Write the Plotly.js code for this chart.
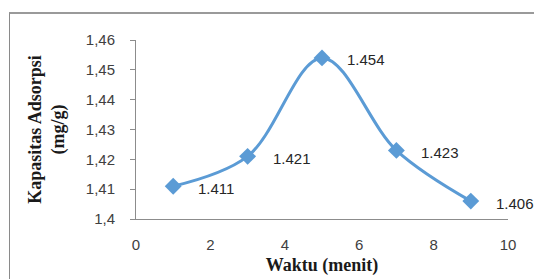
<!DOCTYPE html>
<html>
<head>
<meta charset="utf-8">
<script src="https://cdn.plot.ly/plotly-3.0.1.min.js"></script>
<style>
html,body{margin:0;padding:0;background:#fff;}
#wrap{position:relative;width:534px;height:279px;overflow:hidden;}
#chart{position:absolute;left:0;top:0;width:534px;height:279px;}
#frame{position:absolute;left:9px;top:12px;width:540px;height:300px;border-top:2px solid #9a9a9a;border-left:1px solid #8a8a8a;pointer-events:none;}
</style>
</head>
<body>
<div id="wrap"><div id="chart"></div><div id="frame"></div></div>
<script>
const waktu = [1, 3, 5, 7, 9];
const kapasitas = [1.411, 1.421, 1.454, 1.423, 1.406];
const labels = ['1.411', '1.421', '1.454', '1.423', '1.406'];
const xTicks = [0, 2, 4, 6, 8, 10];
const yTicks = [1.40, 1.41, 1.42, 1.43, 1.44, 1.45, 1.46];
const yTickText = ['1,4', '1,41', '1,42', '1,43', '1,44', '1,45', '1,46'];

const trace = {
  x: waktu, y: kapasitas, type: 'scatter', mode: 'lines+markers',
  line: {shape: 'spline', smoothing: 1, color: '#5b9bd5', width: 3},
  marker: {symbol: 'diamond', size: 13, color: '#5b9bd5'},
  hoverinfo: 'none', cliponaxis: false
};

const annotations = waktu.map((x, i) => ({
  x: x, y: kapasitas[i], xref: 'x', yref: 'y', text: labels[i],
  showarrow: false, xanchor: 'left', yanchor: 'middle', xshift: 23, yshift: -2,
  font: {family: 'Liberation Sans, Arial, sans-serif', size: 15, color: '#262626'}
}));

const layout = {
  width: 534, height: 279,
  margin: {l: 136, r: 26, t: 40, b: 60},
  paper_bgcolor: 'rgba(0,0,0,0)', plot_bgcolor: 'rgba(0,0,0,0)',
  showlegend: false,
  xaxis: {
    range: [0, 10], tickvals: xTicks, showgrid: false, zeroline: false,
    showline: true, linecolor: '#8c8c8c', linewidth: 1, ticks: '',
    ticklabelstandoff: 12,
    tickfont: {family: 'Liberation Sans, Arial, sans-serif', size: 15, color: '#404040'},
    title: {text: 'Waktu (menit)', standoff: 6,
      font: {family: 'Liberation Serif, Times New Roman, serif', size: 18, color: '#1a1a1a', weight: 'bold'}}
  },
  yaxis: {
    range: [1.4, 1.46], tickvals: yTicks, ticktext: yTickText, showgrid: false, zeroline: false,
    showline: true, linecolor: '#8c8c8c', linewidth: 1, ticks: 'outside', ticklen: 5, tickcolor: '#8c8c8c',
    ticklabelstandoff: 12,
    tickfont: {family: 'Liberation Sans, Arial, sans-serif', size: 15, color: '#404040'},
    title: {text: '<b>Kapasitas Adsorpsi</b><br><b>(mg/g)</b>', standoff: 16,
      font: {family: 'Liberation Serif, Times New Roman, serif', size: 18, color: '#1a1a1a'}}
  },
  annotations: annotations
};

Plotly.newPlot('chart', [trace], layout, {displayModeBar: false, staticPlot: true});
</script>
</body>
</html>
